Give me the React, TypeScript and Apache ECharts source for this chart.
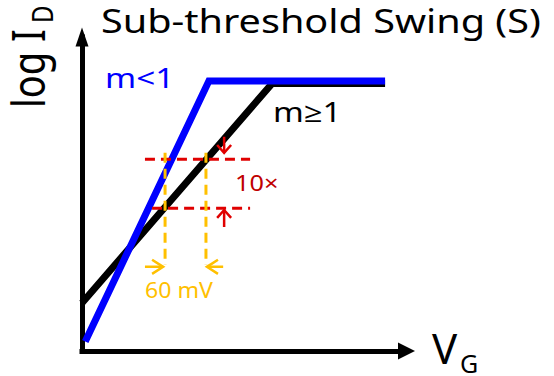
import React, { useEffect, useRef } from "react";
import * as echarts from "echarts";

// Conceptual axes: V_G (x) and log I_D (y), both 0..10 arbitrary units
const AXIS_MAX_X = 10;
const AXIS_MAX_Y = 10;

// m<1 (blue) transfer curve
const blueX = [0.1, 3.91, 9.34];
const blueY = [0.3, 8.6, 8.6];

// m>=1 (black) transfer curve
const blackX = [0, 5.86, 9.34];
const blackY = [1.53, 8.52, 8.52];

// red dashed decade levels (log I_D)
const decadeLevels = [6.11, 4.55];
const decadeStartX = [1.94, 2.16];
const decadeEndX = [5.18, 5.18];

// yellow dashed 60 mV gate voltages
const mvGateX = [2.56, 3.82];
const mvTop = [6.31, 6.31];
const mvBottom = [2.74, 2.74];

// red "10x" arrows (x, shaft end, tip, wing level, wing half-width)
const redArrowX = [4.38, 4.38];
const redArrowShaftY = [6.82, 3.95];
const redArrowTipY = [6.31, 4.49];
const redArrowWingY = [6.56, 4.24];
const redWingHalf = 0.215;

// yellow "60 mV" arrows (y, shaft end, tip, wing x, wing half-height)
const yelArrowY = [2.68, 2.68];
const yelArrowShaftX = [1.94, 4.35];
const yelArrowTipX = [2.5, 3.85];
const yelArrowWingX = [2.16, 4.19];
const yelWingHalf = 0.225;

const FONT = "'Noto Sans', 'Open Sans', sans-serif";
const RED = "#E00000";
const DARKRED = "#C00000";
const GOLD = "#FFC000";

function zip(xs: number[], ys: number[]) {
  return xs.map((x, i) => [x, ys[i]]);
}

function lineSeries(data: number[][], color: string, width: number, type: any = "solid", z = 2) {
  return {
    type: "line",
    data,
    symbol: "none",
    silent: true,
    z,
    lineStyle: { color, width, type, join: "miter", cap: "butt" },
  };
}

function label(text: string, x: number, y: number, fontSize: number, fill: string, scaleX: number) {
  return {
    type: "text",
    x,
    y,
    scaleX,
    style: { text, fontSize, lineHeight: fontSize, fontFamily: FONT, fill, align: "left", verticalAlign: "middle" },
  };
}

export default function App() {
  const ref = useRef<HTMLDivElement>(null);

  useEffect(() => {
    if (!ref.current) return;
    const chart = echarts.init(ref.current, null, { renderer: "svg" });

    const series: any[] = [];
    series.push(lineSeries(zip(blackX, blackY), "#000000", 7, "solid", 2));
    series.push(lineSeries(zip(blueX, blueY), "#0000FF", 7, "solid", 3));

    decadeLevels.forEach((lv, i) => {
      series.push(
        lineSeries(
          [
            [decadeStartX[i], lv],
            [decadeEndX[i], lv],
          ],
          RED,
          3,
          [10, 6],
          4
        )
      );
    });
    mvGateX.forEach((gx, i) => {
      series.push(
        lineSeries(
          [
            [gx, mvTop[i]],
            [gx, mvBottom[i]],
          ],
          GOLD,
          3,
          [10, 6],
          4
        )
      );
    });
    redArrowX.forEach((ax, i) => {
      series.push(
        lineSeries(
          [
            [ax, redArrowShaftY[i]],
            [ax, redArrowTipY[i]],
          ],
          RED,
          2.5,
          "solid",
          5
        )
      );
      series.push(
        lineSeries(
          [
            [ax - redWingHalf, redArrowWingY[i]],
            [ax, redArrowTipY[i]],
            [ax + redWingHalf, redArrowWingY[i]],
          ],
          RED,
          2.5,
          "solid",
          5
        )
      );
    });
    yelArrowY.forEach((ay, i) => {
      series.push(
        lineSeries(
          [
            [yelArrowShaftX[i], ay],
            [yelArrowTipX[i], ay],
          ],
          GOLD,
          2.5,
          "solid",
          5
        )
      );
      series.push(
        lineSeries(
          [
            [yelArrowWingX[i], ay + yelWingHalf],
            [yelArrowTipX[i], ay],
            [yelArrowWingX[i], ay - yelWingHalf],
          ],
          GOLD,
          2.5,
          "solid",
          5
        )
      );
    });

    const hidden = {
      axisTick: { show: false },
      axisLabel: { show: false },
      splitLine: { show: false },
    };

    chart.setOption({
      animation: false,
      backgroundColor: "#ffffff",
      grid: { left: 82, top: 37, width: 324.5, height: 314, outerBoundsMode: "none", containLabel: false },
      xAxis: {
        type: "value",
        min: 0,
        max: AXIS_MAX_X,
        ...hidden,
        axisLine: {
          show: true,
          onZero: false,
          symbol: ["none", "triangle"],
          symbolSize: [17, 17],
          lineStyle: { color: "#000", width: 5, cap: "square" },
        },
      },
      yAxis: {
        type: "value",
        min: 0,
        max: AXIS_MAX_Y,
        ...hidden,
        axisLine: {
          show: true,
          onZero: false,
          symbol: ["none", "triangle"],
          symbolSize: [13, 19],
          lineStyle: { color: "#000", width: 5, cap: "square" },
        },
      },
      series,
      graphic: [
        label("Sub-threshold Swing (S)", 101, 20, 33, "#000", 1.2),
        {
          type: "group",
          x: 27,
          y: 108,
          rotation: Math.PI / 2,
          scaleY: 1.2,
          children: [
            {
              type: "text",
              x: 0,
              y: 0,
              style: { text: "log I", fontSize: 38, lineHeight: 36, fontFamily: FONT, fill: "#000", align: "left", verticalAlign: "middle" },
            },
            {
              type: "text",
              x: 85,
              y: 13,
              style: { text: "D", fontSize: 24, lineHeight: 22, fontFamily: FONT, fill: "#000", align: "left", verticalAlign: "middle" },
            },
          ],
        },
        label("m<1", 105, 77, 28, "#0000FF", 1.19),
        label("m≥1", 273, 112, 27, "#000", 1.22),
        label("10×", 235, 183, 22, DARKRED, 1.15),
        label("60 mV", 145, 289, 21, GOLD, 1.1),
        label("V", 432, 347, 42, "#000", 1),
        label("G", 460, 362.5, 25, "#000", 1),
      ],
    });

    return () => chart.dispose();
  }, []);

  return <div ref={ref} style={{ position: "fixed", left: 0, top: 0, width: 554, height: 376 }} />;
}
